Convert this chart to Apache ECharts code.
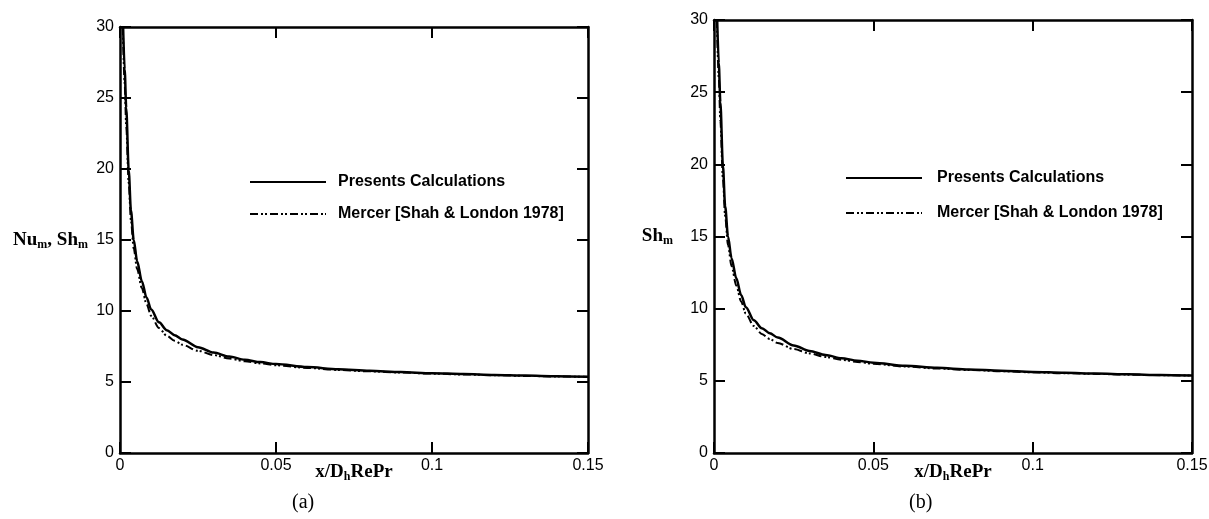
<!DOCTYPE html>
<html><head><meta charset="utf-8">
<script src="https://cdn.jsdelivr.net/npm/echarts@6/dist/echarts.min.js"></script>
<style>html,body{margin:0;padding:0;background:#fff}#c{width:1209px;height:519px}</style>
</head><body><div id="c"></div>
<script>
// Present calculations (solid) – x/DhRePr and Nu_m / Sh_m
const xPresent = [0.001, 0.0015, 0.002, 0.0028, 0.0035, 0.0044, 0.0055, 0.007, 0.0085, 0.01, 0.0125, 0.015, 0.0175, 0.02, 0.025, 0.03, 0.035, 0.04, 0.045, 0.05, 0.06, 0.07, 0.08, 0.09, 0.1, 0.11, 0.12, 0.13, 0.14, 0.15];
const nuPresent = [30, 27.0, 24.3, 19.9, 17.1, 15.0, 13.5, 12.1, 10.95, 10.1, 9.2, 8.65, 8.3, 8.0, 7.45, 7.07, 6.79, 6.57, 6.4, 6.26, 6.05, 5.9, 5.79, 5.7, 5.62, 5.56, 5.5, 5.45, 5.41, 5.37];
// Mercer [Shah & London 1978] (dash-dot-dot)
const xMercer = [0.0009, 0.0015, 0.002, 0.0028, 0.0035, 0.0044, 0.0055, 0.007, 0.0085, 0.01, 0.0125, 0.015, 0.0175, 0.02, 0.025, 0.03, 0.035, 0.04, 0.045, 0.05, 0.06, 0.07, 0.08, 0.09, 0.1, 0.11, 0.12, 0.13, 0.14, 0.15];
const nuMercer = [30, 26.0, 23.0, 19.0, 16.4, 14.4, 12.95, 11.6, 10.5, 9.65, 8.8, 8.25, 7.9, 7.62, 7.2, 6.9, 6.65, 6.46, 6.31, 6.18, 5.99, 5.85, 5.75, 5.67, 5.59, 5.53, 5.48, 5.43, 5.39, 5.36];
// panel (b) shows the same curves for Sh_m
const shPresent = nuPresent.slice();
const shMercer = nuMercer.slice();

const seriesNames = ['Presents Calculations', 'Mercer [Shah & London 1978]'];
const yNames = ['{b|Nu}{s|m}{b|, Sh}{s|m}', '{b|Sh}{s|m}'];
const xName = '{b|x/D}{s|h}{b|RePr}';
const panelLabels = ['(a)', '(b)'];

const serif = 'Liberation Serif';
const sans = 'Liberation Sans';
const rich = {
  b: {fontFamily: serif, fontWeight: 'bold', fontSize: 19, color: '#000'},
  s: {fontFamily: serif, fontWeight: 'bold', fontSize: 12, color: '#000', padding: [9, 0, 0, 0]}
};
const axisLine = {show: true, onZero: false, lineStyle: {color: '#000', width: 2.5}};
const tick = {show: true, inside: true, length: 11, lineStyle: {color: '#000', width: 2}};
const lbl = {color: '#000', fontFamily: sans, fontSize: 16};

const grids = [
  {left: 120, top: 27, width: 468, height: 426},
  {left: 714, top: 20, width: 478, height: 433}
];
const xAxes = [], yAxes = [], series = [], legends = [], graphics = [];
const yNameGap = [32, 41];
const legendPos = [{left: 249, top: 174, gap: 16, pad: 7}, {left: 845, top: 170, gap: 19, pad: 10}];
const labelX = [308, 925];
grids.forEach((g, i) => {
  g.outerBoundsMode = 'none';
  xAxes.push({type: 'value', gridIndex: i, min: 0, max: 0.15, interval: 0.05, position: 'bottom',
    axisLine, axisTick: tick, splitLine: {show: false},
    axisLabel: Object.assign({margin: 5}, lbl),
    name: xName, nameLocation: 'middle', nameGap: 9, nameMoveOverlap: false, nameTextStyle: {rich}});
  xAxes.push({type: 'value', gridIndex: i, min: 0, max: 0.15, interval: 0.05, position: 'top',
    axisLine, axisTick: tick, splitLine: {show: false}, axisLabel: {show: false}});
  yAxes.push({type: 'value', gridIndex: i, min: 0, max: 30, interval: 5, position: 'left',
    axisLine, axisTick: tick, splitLine: {show: false},
    axisLabel: Object.assign({margin: 6}, lbl),
    name: yNames[i], nameLocation: 'middle', nameRotate: 0, nameGap: yNameGap[i], nameMoveOverlap: false,
    nameTextStyle: {rich, align: 'right'}});
  yAxes.push({type: 'value', gridIndex: i, min: 0, max: 30, interval: 5, position: 'right',
    axisLine, axisTick: tick, splitLine: {show: false}, axisLabel: {show: false}});
  const pres = i === 0 ? nuPresent : shPresent;
  const merc = i === 0 ? nuMercer : shMercer;
  series.push({name: seriesNames[0], type: 'line', xAxisIndex: i * 2, yAxisIndex: i * 2,
    data: xPresent.map((x, k) => [x, pres[k]]), symbol: 'none', smooth: 0.3, smoothMonotone: 'x',
    lineStyle: {color: '#000', width: 2.5, type: 'solid'}, itemStyle: {color: '#000'}, silent: true});
  series.push({name: seriesNames[1], type: 'line', xAxisIndex: i * 2, yAxisIndex: i * 2,
    data: xMercer.map((x, k) => [x, merc[k]]), symbol: 'none', smooth: 0.3, smoothMonotone: 'x',
    lineStyle: {color: '#000', width: 2, type: [8, 3, 2, 2, 2, 3]}, itemStyle: {color: '#000'}, silent: true});
  const lp = legendPos[i];
  legends.push({left: lp.left, top: lp.top, padding: 0, orient: 'vertical', itemWidth: 76, itemHeight: 16, itemGap: lp.gap,
    selectedMode: false, data: seriesNames,
    itemStyle: {opacity: 0, borderWidth: 0},
    textStyle: {fontFamily: sans, fontWeight: 'bold', fontSize: 16, lineHeight: 16, color: '#000', padding: [0, 0, 0, lp.pad]}});
  graphics.push({type: 'text', left: labelX[i] - 16, top: 493,
    style: {text: panelLabels[i], font: '20px "Liberation Serif"', fill: '#000'}});
});

const chart = echarts.init(document.getElementById('c'), null, {renderer: 'canvas'});
chart.setOption({
  animation: false,
  backgroundColor: '#fff',
  grid: grids, xAxis: xAxes, yAxis: yAxes, series, legend: legends, graphic: graphics
});
</script>
</body></html>
